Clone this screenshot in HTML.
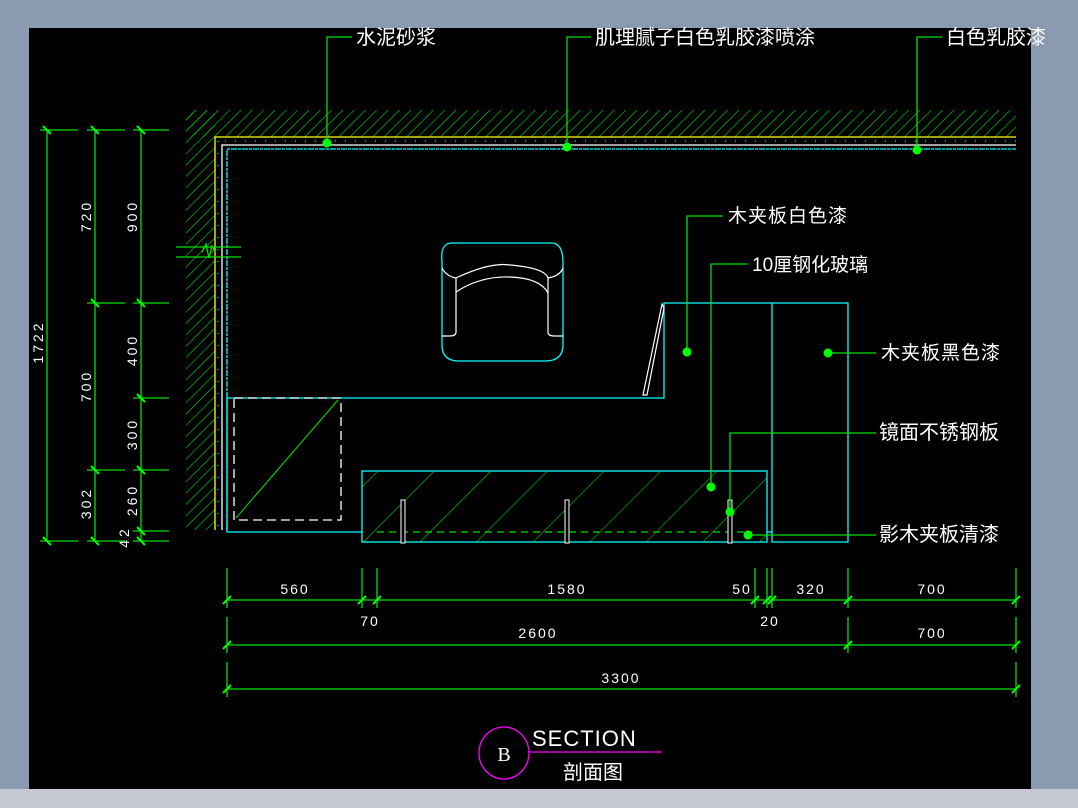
<!DOCTYPE html>
<html><head><meta charset="utf-8"><style>
html,body{margin:0;padding:0;background:#8a9ab0;width:1078px;height:808px;overflow:hidden}
svg{display:block}
text{font-family:"Liberation Sans","Noto Sans CJK SC",sans-serif;fill:#fff}
</style></head><body>
<svg width="1078" height="808" viewBox="0 0 1078 808" xmlns="http://www.w3.org/2000/svg">
<defs>
<pattern id="h" patternUnits="userSpaceOnUse" width="8" height="8" patternTransform="rotate(45)">
<line x1="0" y1="0" x2="0" y2="8" stroke="#00e000" stroke-width="1.2"/>
</pattern>
<pattern id="g" patternUnits="userSpaceOnUse" width="40" height="40" patternTransform="rotate(45)">
<line x1="0" y1="0" x2="0" y2="40" stroke="#00e000" stroke-width="1.1"/>
</pattern>
</defs>
<rect x="0" y="0" width="1078" height="808" fill="#8a9ab0"/>
<rect x="0" y="789" width="1078" height="19" fill="#c5c8d3"/>
<rect x="29" y="28" width="1002" height="761" fill="#000"/>

<rect x="186" y="110" width="830" height="27" fill="url(#h)"/>
<rect x="186" y="110" width="29" height="420" fill="url(#h)"/>
<polyline points="215,530 215,137 1016,137" fill="none" stroke="#ffff00" stroke-width="1.3"/>
<polyline points="222,530 222,145 1016,145" fill="none" stroke="#fff" stroke-width="1.3"/>
<polyline points="227,530 227,149 1016,149" fill="none" stroke="#00ffff" stroke-width="1.3" stroke-dasharray="6 1 3 1"/>
<line x1="215" y1="141" x2="1016" y2="141" stroke="#00e000" stroke-width="1.5" stroke-dasharray="1 9"/>
<line x1="218" y1="141" x2="218" y2="530" stroke="#00e000" stroke-width="1.5" stroke-dasharray="1 11"/>
<line x1="176" y1="247" x2="241" y2="247" stroke="#00e000" stroke-width="1.3"/>
<line x1="176" y1="257" x2="241" y2="257" stroke="#00e000" stroke-width="1.3"/>
<polyline points="202,252 206,244 209,258 212,246 215,252" fill="none" stroke="#00e000" stroke-width="1.3"/>

<path d="M452,243 H551 Q563,243 563,262 V345 Q563,361 545,361 H459 Q442,361 442,345 V262 Q440,243 452,243 Z" fill="none" stroke="#00ffff" stroke-width="1.3"/>
<path d="M442,268 Q446,276 456,278 Q490,262 510,265 Q545,268 548,278 Q560,276 563,268" fill="none" stroke="#fff" stroke-width="1.2"/>
<path d="M456,292 Q480,276 510,277 Q540,278 548,293" fill="none" stroke="#fff" stroke-width="1.2"/>
<path d="M456,278 V332 Q456,336 450,336 H442 M548,278 V332 Q548,336 554,336 H563" fill="none" stroke="#fff" stroke-width="1.2"/>

<polyline points="227,398 664,398 664,303 848,303 848,542 772,542 772,303" fill="none" stroke="#00ffff" stroke-width="1.3"/>
<polyline points="227,398 227,532 362,532" fill="none" stroke="#00ffff" stroke-width="1.3"/>
<line x1="767" y1="532" x2="772" y2="532" stroke="#00ffff" stroke-width="1.3"/>
<polygon points="662,304 664,308 647,395 643,395" fill="none" stroke="#fff" stroke-width="1.2"/>
<rect x="234" y="398" width="107" height="122" fill="none" stroke="#fff" stroke-width="1.3" stroke-dasharray="9 5"/>
<line x1="236" y1="518" x2="338" y2="400" stroke="#00e000" stroke-width="1"/>

<rect x="362" y="471" width="405" height="71" fill="url(#g)"/>
<rect x="362" y="471" width="405" height="71" fill="none" stroke="#00ffff" stroke-width="1.3"/>
<line x1="377" y1="532" x2="752" y2="532" stroke="#00e000" stroke-width="1.3" stroke-dasharray="7 5"/>
<rect x="401" y="500" width="4" height="43" fill="#000" stroke="#fff" stroke-width="1"/>
<rect x="565" y="500" width="4" height="43" fill="#000" stroke="#fff" stroke-width="1"/>
<rect x="728" y="500" width="4" height="43" fill="#000" stroke="#fff" stroke-width="1"/>

<g stroke="#00e000" stroke-width="1.3" fill="none">
<polyline points="327,143 327,37 352,37"/>
<polyline points="567,147 567,37 591,37"/>
<polyline points="917,150 917,37 942,37"/>
<polyline points="687,352 687,216 723,216"/>
<polyline points="711,487 711,264 748,264"/>
<polyline points="828,353 876,353"/>
<polyline points="730,512 730,433 876,433"/>
<polyline points="748,535 876,535"/>
</g>
<g fill="#00ff00">
<circle cx="327" cy="143" r="4.5"/><circle cx="567" cy="147" r="4.5"/><circle cx="917" cy="150" r="4.5"/>
<circle cx="687" cy="352" r="4.5"/><circle cx="711" cy="487" r="4.5"/><circle cx="828" cy="353" r="4.5"/>
<circle cx="730" cy="512" r="4.5"/><circle cx="748" cy="535" r="4.5"/>
</g>
<g font-size="20">
<text x="356" y="44">水泥砂浆</text>
<text x="595" y="44">肌理腻子白色乳胶漆喷涂</text>
<text x="946" y="44">白色乳胶漆</text>
<text x="728" y="222" font-size="19" letter-spacing="1">木夹板白色漆</text>
<text x="752" y="271" font-size="19">10厘钢化玻璃</text>
<text x="881" y="359" font-size="19" letter-spacing="1">木夹板黑色漆</text>
<text x="879" y="439">镜面不锈钢板</text>
<text x="879" y="541">影木夹板清漆</text>
</g>

<g stroke="#00e000" stroke-width="1.3">
<line x1="47" y1="130" x2="47" y2="541"/>
<line x1="95" y1="130" x2="95" y2="541"/>
<line x1="141" y1="130" x2="141" y2="541"/>
<line x1="40" y1="130" x2="78" y2="130"/><line x1="40" y1="541" x2="78" y2="541"/>
<line x1="87" y1="130" x2="125" y2="130"/><line x1="87" y1="303" x2="125" y2="303"/><line x1="87" y1="470" x2="125" y2="470"/><line x1="87" y1="541" x2="125" y2="541"/>
<line x1="133" y1="130" x2="169" y2="130"/><line x1="133" y1="303" x2="169" y2="303"/><line x1="133" y1="398" x2="169" y2="398"/><line x1="133" y1="470" x2="169" y2="470"/><line x1="133" y1="531" x2="169" y2="531"/><line x1="133" y1="541" x2="169" y2="541"/>
</g>
<g stroke="#00ff00" stroke-width="2">
<line x1="43" y1="126" x2="51" y2="134"/><line x1="43" y1="537" x2="51" y2="545"/>
<line x1="91" y1="126" x2="99" y2="134"/><line x1="91" y1="299" x2="99" y2="307"/><line x1="91" y1="466" x2="99" y2="474"/><line x1="91" y1="537" x2="99" y2="545"/>
<line x1="137" y1="126" x2="145" y2="134"/><line x1="137" y1="299" x2="145" y2="307"/><line x1="137" y1="394" x2="145" y2="402"/><line x1="137" y1="466" x2="145" y2="474"/><line x1="137" y1="527" x2="145" y2="535"/><line x1="137" y1="537" x2="145" y2="545"/>
</g>
<g font-size="14" letter-spacing="3">
<text transform="translate(43,342) rotate(-90)" text-anchor="middle">1722</text>
<text transform="translate(91,216) rotate(-90)" text-anchor="middle">720</text>
<text transform="translate(91,386) rotate(-90)" text-anchor="middle">700</text>
<text transform="translate(91,503) rotate(-90)" text-anchor="middle">302</text>
<text transform="translate(129,537) rotate(-90)" text-anchor="middle">42</text>
<text transform="translate(137,216) rotate(-90)" text-anchor="middle">900</text>
<text transform="translate(137,350) rotate(-90)" text-anchor="middle">400</text>
<text transform="translate(137,434) rotate(-90)" text-anchor="middle">300</text>
<text transform="translate(137,500) rotate(-90)" text-anchor="middle">260</text>
</g>

<g stroke="#00e000" stroke-width="1.3">
<line x1="227" y1="600" x2="1016" y2="600"/>
<line x1="227" y1="645" x2="1016" y2="645"/>
<line x1="227" y1="689" x2="1016" y2="689"/>
<line x1="227" y1="568" x2="227" y2="608"/><line x1="362" y1="568" x2="362" y2="608"/><line x1="377" y1="568" x2="377" y2="608"/>
<line x1="755" y1="568" x2="755" y2="608"/><line x1="767" y1="568" x2="767" y2="608"/><line x1="772" y1="568" x2="772" y2="608"/>
<line x1="848" y1="568" x2="848" y2="608"/><line x1="1016" y1="568" x2="1016" y2="608"/>
<line x1="227" y1="617" x2="227" y2="653"/><line x1="848" y1="617" x2="848" y2="653"/><line x1="1016" y1="617" x2="1016" y2="653"/>
<line x1="227" y1="662" x2="227" y2="697"/><line x1="1016" y1="662" x2="1016" y2="697"/>
</g>
<g stroke="#00ff00" stroke-width="2">
<line x1="223" y1="604" x2="231" y2="596"/><line x1="358" y1="604" x2="366" y2="596"/><line x1="373" y1="604" x2="381" y2="596"/>
<line x1="751" y1="604" x2="759" y2="596"/><line x1="763" y1="604" x2="771" y2="596"/><line x1="768" y1="604" x2="776" y2="596"/>
<line x1="844" y1="604" x2="852" y2="596"/><line x1="1012" y1="604" x2="1020" y2="596"/>
<line x1="223" y1="649" x2="231" y2="641"/><line x1="844" y1="649" x2="852" y2="641"/><line x1="1012" y1="649" x2="1020" y2="641"/>
<line x1="223" y1="693" x2="231" y2="685"/><line x1="1012" y1="693" x2="1020" y2="685"/>
</g>
<g font-size="14" letter-spacing="2" text-anchor="middle">
<text x="295" y="594">560</text>
<text x="567" y="594">1580</text>
<text x="742" y="594">50</text>
<text x="811" y="594">320</text>
<text x="932" y="594">700</text>
<text x="370" y="626">70</text>
<text x="770" y="626">20</text>
<text x="538" y="638">2600</text>
<text x="932" y="638">700</text>
<text x="621" y="683">3300</text>
</g>

<ellipse cx="504" cy="753" rx="25" ry="26" fill="none" stroke="#ff00ff" stroke-width="1.3"/>
<line x1="529" y1="752" x2="662" y2="752" stroke="#ff00ff" stroke-width="1.3"/>
<text x="504" y="761" font-size="20" text-anchor="middle" style="font-family:'Liberation Serif',serif">B</text>
<text x="532" y="746" font-size="22" letter-spacing="1">SECTION</text>
<text x="563" y="779" font-size="20">剖面图</text>
</svg>
</body></html>
